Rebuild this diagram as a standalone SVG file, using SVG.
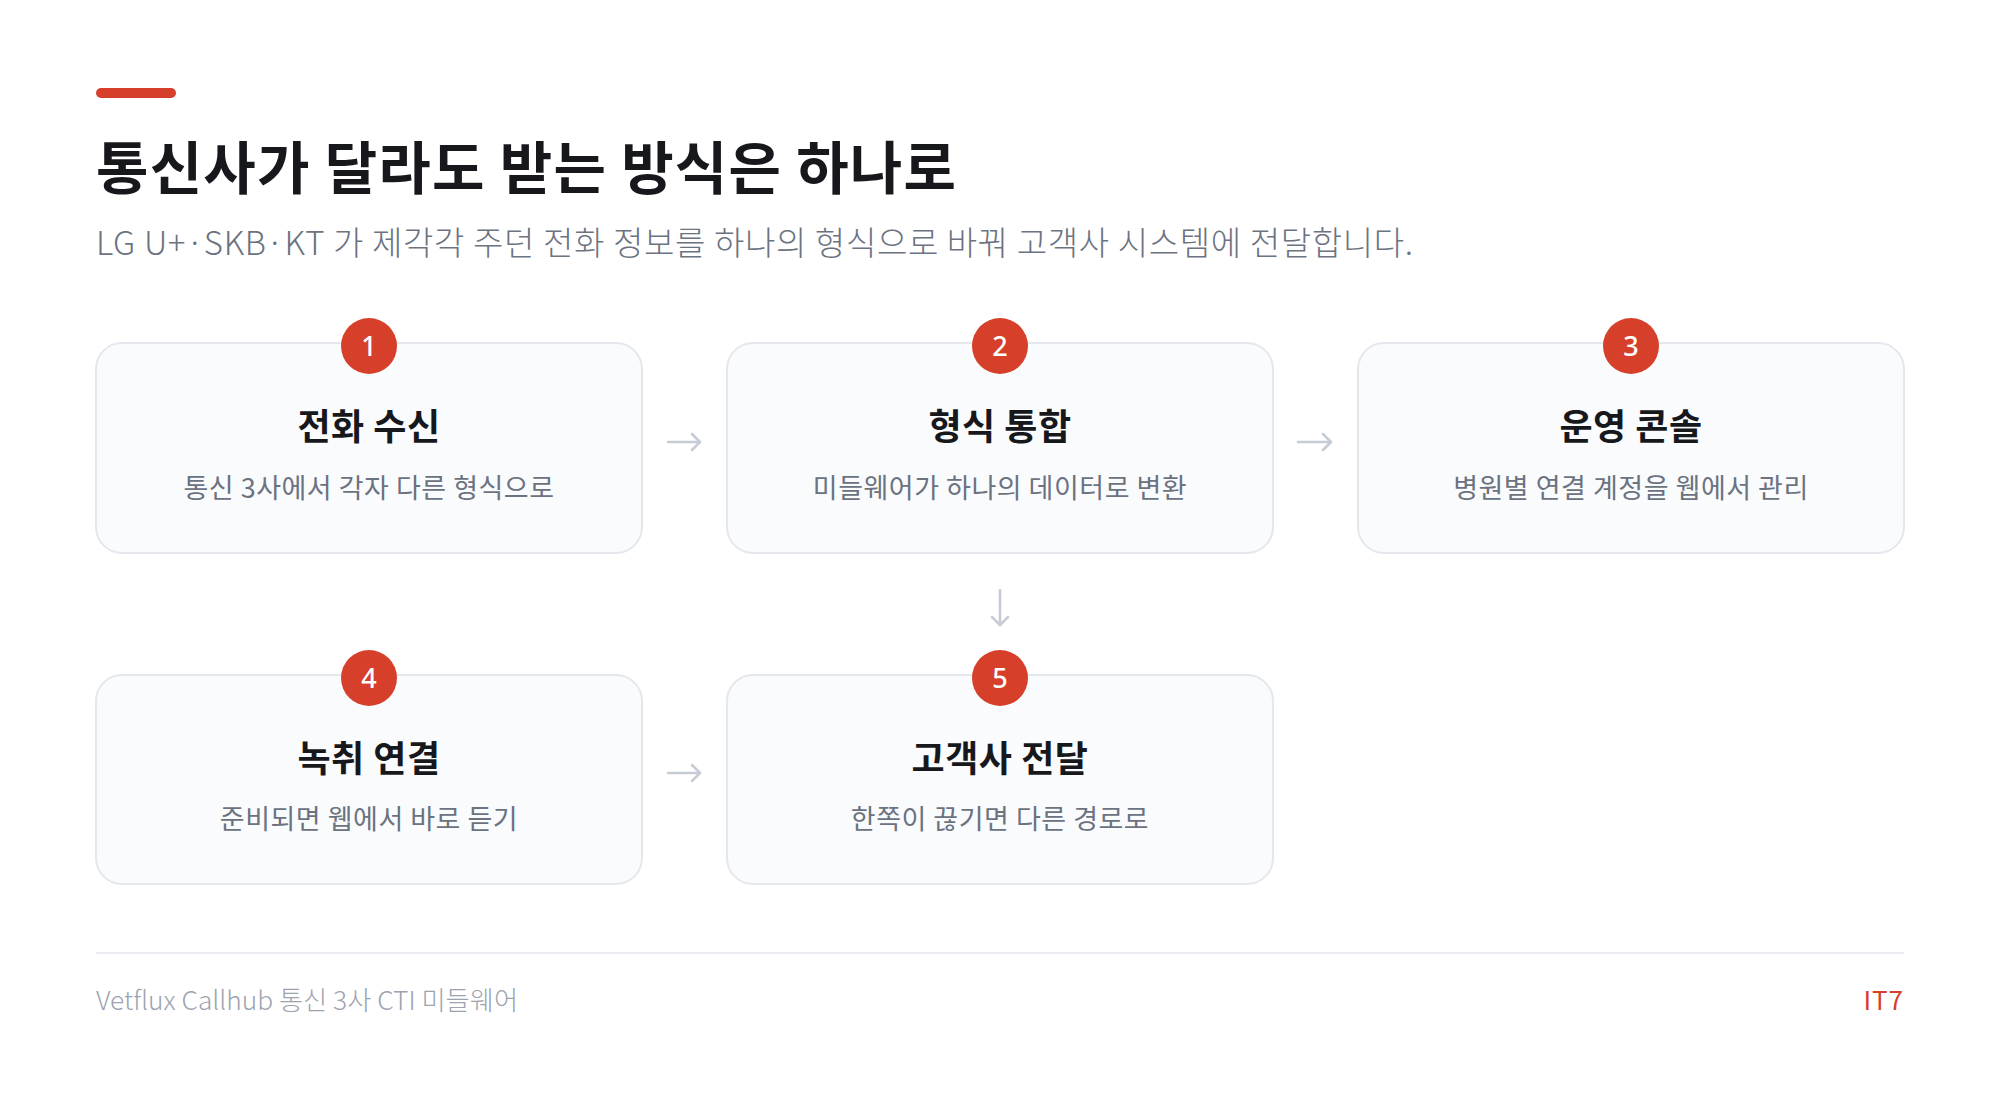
<svg xmlns="http://www.w3.org/2000/svg" width="2000" height="1098" viewBox="0 0 2000 1098">
<defs>
<style>
.card{fill:#fafbfd;stroke:#e4e7ec;stroke-width:2}
.badge{fill:#d6402a}
.num{font-family:"Noto Sans","Noto Sans CJK KR",sans-serif;font-size:27px;font-weight:500;fill:#ffffff;text-anchor:middle}
.ttl{font-family:"Noto Sans CJK KR","Noto Sans",sans-serif;font-size:36px;font-weight:600;letter-spacing:0.5px;fill:#17181c;text-anchor:middle}
.dsc{font-family:"Noto Sans CJK KR","Noto Sans",sans-serif;font-size:27px;font-weight:400;letter-spacing:0.5px;fill:#6b7280;text-anchor:middle}
.conn{fill:none;stroke:#c6ccd6;stroke-width:2.5;stroke-linecap:round}
</style>
<marker id="ah" markerUnits="userSpaceOnUse" markerWidth="24" markerHeight="24" refX="12" refY="10" orient="auto">
<path d="M4,2 L12,10 L4,18" fill="none" stroke="#c6ccd6" stroke-width="2.5" stroke-linecap="round" stroke-linejoin="round"/>
</marker>
</defs>
<rect width="2000" height="1098" fill="#ffffff"/>
<rect x="96" y="88" width="80" height="10" rx="5" fill="#d6402a"/>
<text x="96" y="189" font-family="'Noto Sans CJK KR','Noto Sans',sans-serif" font-size="57" font-weight="700" letter-spacing="1.2" fill="#17181c">통신사가 달라도 받는 방식은 하나로</text>
<text x="96" y="255" font-family="'Noto Sans CJK KR','Noto Sans',sans-serif" font-size="33" font-weight="300" letter-spacing="0.65" fill="#6b7280">LG U+·SKB·KT 가 제각각 주던 전화 정보를 하나의 형식으로 바꿔 고객사 시스템에 전달합니다.</text>

<g id="connectors">
<path class="conn" d="M668,442 H700" marker-end="url(#ah)"/>
<path class="conn" d="M1298,442 H1331" marker-end="url(#ah)"/>
<path class="conn" d="M1000,590 V625" marker-end="url(#ah)"/>
<path class="conn" d="M668,773 H700" marker-end="url(#ah)"/>
</g>

<g id="node1">
<rect class="card" x="96" y="343" width="546" height="210" rx="26"/>
<circle class="badge" cx="369" cy="346" r="28"/>
<text class="num" x="369" y="356">1</text>
<text class="ttl" x="369" y="440">전화 수신</text>
<text class="dsc" x="369" y="498">통신 3사에서 각자 다른 형식으로</text>
</g>
<g id="node2">
<rect class="card" x="727" y="343" width="546" height="210" rx="26"/>
<circle class="badge" cx="1000" cy="346" r="28"/>
<text class="num" x="1000" y="356">2</text>
<text class="ttl" x="1000" y="440">형식 통합</text>
<text class="dsc" x="1000" y="498">미들웨어가 하나의 데이터로 변환</text>
</g>
<g id="node3">
<rect class="card" x="1358" y="343" width="546" height="210" rx="26"/>
<circle class="badge" cx="1631" cy="346" r="28"/>
<text class="num" x="1631" y="356">3</text>
<text class="ttl" x="1631" y="440">운영 콘솔</text>
<text class="dsc" x="1631" y="498">병원별 연결 계정을 웹에서 관리</text>
</g>
<g id="node4">
<rect class="card" x="96" y="675" width="546" height="209" rx="26"/>
<circle class="badge" cx="369" cy="678" r="28"/>
<text class="num" x="369" y="688">4</text>
<text class="ttl" x="369" y="772">녹취 연결</text>
<text class="dsc" x="369" y="829">준비되면 웹에서 바로 듣기</text>
</g>
<g id="node5">
<rect class="card" x="727" y="675" width="546" height="209" rx="26"/>
<circle class="badge" cx="1000" cy="678" r="28"/>
<text class="num" x="1000" y="688">5</text>
<text class="ttl" x="1000" y="772">고객사 전달</text>
<text class="dsc" x="1000" y="829">한쪽이 끊기면 다른 경로로</text>
</g>

<line x1="96" y1="953" x2="1904" y2="953" stroke="#e9edf1" stroke-width="2"/>
<text x="96" y="1010" font-family="'Noto Sans CJK KR','Noto Sans',sans-serif" font-size="26.3" font-weight="300" fill="#9ca3af">Vetflux Callhub 통신 3사 CTI 미들웨어</text>
<text x="1904" y="1010" text-anchor="end" font-family="'Noto Sans CJK KR','Noto Sans',sans-serif" font-size="26" font-weight="400" letter-spacing="1" fill="#d6402a">IT7</text>
</svg>
